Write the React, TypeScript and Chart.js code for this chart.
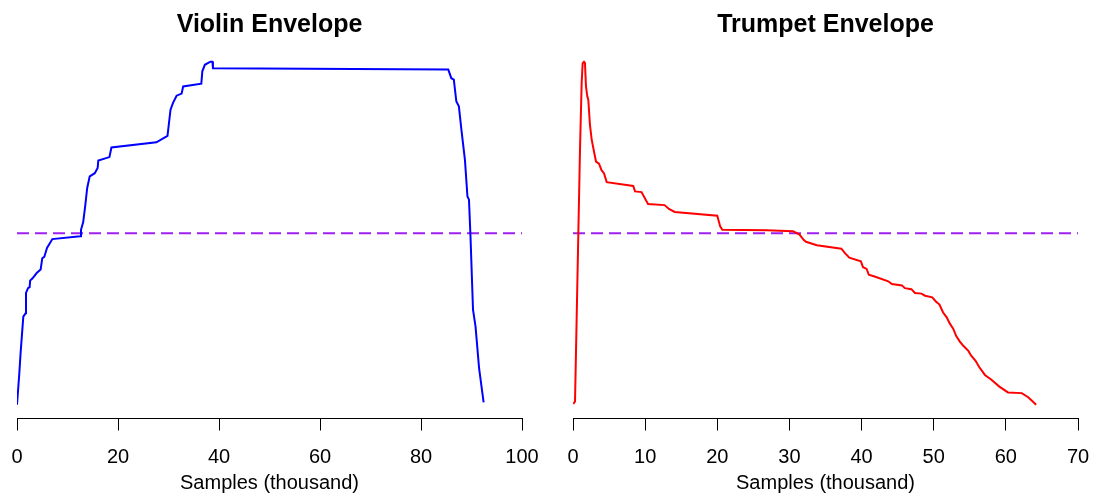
import React, { useEffect, useRef } from 'react';
import { Chart, registerables } from 'chart.js';

Chart.register(...registerables);

// ---- Data (x in thousand samples, y = normalised envelope amplitude) ----
const violinX = [0, 0.46, 0.73, 1.25, 1.7, 1.78, 2.18, 2.5, 2.6, 3.03, 3.9, 4.68, 5.0, 5.4, 5.94, 7.0, 12.5, 12.67, 13.1, 13.5, 13.9, 14.4, 15.4, 15.97, 16.1, 18.3, 18.7, 27.6, 29.8, 30.4, 30.9, 31.6, 32.6, 32.9, 36.5, 36.7, 37.2, 38.3, 38.7, 38.8, 85.4, 86.0, 86.5, 87.0, 87.5, 88.0, 88.7, 89.2, 89.5, 89.8, 90.3, 90.8, 91.5, 92.4];
const violinY = [0, 0.092, 0.155, 0.257, 0.267, 0.326, 0.34, 0.343, 0.362, 0.368, 0.384, 0.394, 0.427, 0.431, 0.457, 0.483, 0.491, 0.51, 0.532, 0.578, 0.632, 0.666, 0.675, 0.69, 0.712, 0.722, 0.75, 0.765, 0.784, 0.86, 0.88, 0.901, 0.907, 0.928, 0.936, 0.972, 0.991, 1.0, 1.0, 0.981, 0.977, 0.952, 0.948, 0.884, 0.87, 0.802, 0.714, 0.607, 0.598, 0.491, 0.277, 0.228, 0.107, 0.007];

const trumpetX = [0.05, 0.28, 0.74, 0.97, 1.2, 1.34, 1.52, 1.66, 1.8, 1.98, 2.12, 2.35, 2.59, 2.95, 3.19, 3.6, 3.97, 4.29, 4.67, 8.35, 8.6, 9.5, 10.4, 12.7, 13.3, 14.1, 20.0, 20.4, 20.7, 26.8, 30.5, 31.4, 32.0, 32.3, 33.8, 37.2, 37.7, 38.3, 39.9, 40.2, 40.7, 41.0, 41.8, 43.7, 44.2, 45.6, 46.0, 46.9, 47.4, 48.3, 48.8, 49.8, 50.3, 50.8, 51.3, 51.8, 52.2, 52.7, 53.1, 53.6, 54.1, 54.8, 55.2, 55.8, 56.3, 57.1, 58.0, 59.1, 60.3, 62.2, 63.1, 64.2];
const trumpetY = [0.002, 0.01, 0.5, 0.743, 0.938, 0.996, 1.0, 0.996, 0.928, 0.899, 0.889, 0.816, 0.773, 0.734, 0.709, 0.703, 0.683, 0.675, 0.649, 0.638, 0.622, 0.62, 0.585, 0.582, 0.571, 0.562, 0.551, 0.52, 0.51, 0.509, 0.506, 0.496, 0.48, 0.475, 0.465, 0.455, 0.442, 0.429, 0.418, 0.401, 0.396, 0.379, 0.374, 0.36, 0.352, 0.348, 0.34, 0.337, 0.326, 0.324, 0.318, 0.313, 0.301, 0.292, 0.269, 0.255, 0.238, 0.222, 0.201, 0.185, 0.172, 0.157, 0.143, 0.128, 0.11, 0.087, 0.073, 0.053, 0.036, 0.034, 0.022, 0.0];

const threshold = 0.5;

const violinTicks = [0, 20, 40, 60, 80, 100];
const trumpetTicks = [0, 10, 20, 30, 40, 50, 60, 70];

const xTitle = 'Samples (thousand)';
const FONT = '"Liberation Sans", Arial, Helvetica, sans-serif';

type PanelProps = {
  title: string;
  xs: number[];
  ys: number[];
  color: string;
  ticks: number[];
  padLeft: number;
  padRight: number;
  offsetLeft: number;
};

function Panel({ title, xs, ys, color, ticks, padLeft, padRight, offsetLeft }: PanelProps) {
  const ref = useRef<HTMLCanvasElement | null>(null);

  useEffect(() => {
    if (!ref.current) return;
    const xMin = ticks[0];
    const xMax = ticks[ticks.length - 1];
    const titlePlugin = {
      id: 'panelTitle',
      afterDraw(chart: any) {
        const ctx = chart.ctx;
        const { left, right } = chart.chartArea;
        ctx.save();
        ctx.font = `bold 25px ${FONT}`;
        ctx.fillStyle = '#000';
        ctx.textAlign = 'center';
        ctx.textBaseline = 'alphabetic';
        ctx.fillText(title, (left + right) / 2, 32);
        ctx.restore();
      },
    };
    const chart = new Chart(ref.current, {
      type: 'line',
      data: {
        datasets: [
          {
            data: xs.map((x, i) => ({ x, y: ys[i] })),
            borderColor: color,
            borderWidth: 2,
            pointRadius: 0,
            tension: 0,
            fill: false,
          },
          {
            data: [
              { x: xMin, y: threshold },
              { x: xMax, y: threshold },
            ],
            borderColor: '#a020f0',
            borderWidth: 2,
            borderDash: [12, 6],
            pointRadius: 0,
            fill: false,
          },
        ],
      },
      options: {
        animation: false,
        responsive: false,
        devicePixelRatio: 1,
        layout: { padding: { left: padLeft, right: padRight, top: 48, bottom: 0 } },
        plugins: { legend: { display: false }, tooltip: { enabled: false }, title: { display: false } },
        scales: {
          x: {
            type: 'linear',
            min: xMin,
            max: xMax,
            afterBuildTicks: (scale: any) => {
              scale.ticks = ticks.map((v) => ({ value: v }));
            },
            afterFit: (scale: any) => {
              scale.height = 78.5;
              scale.paddingLeft = 0;
              scale.paddingRight = 0;
            },
            grid: {
              display: true,
              drawOnChartArea: false,
              drawTicks: true,
              tickLength: 12,
              color: '#000',
              lineWidth: 1,
            },
            border: { display: true, color: '#000', width: 1 },
            ticks: {
              autoSkip: false,
              maxRotation: 0,
              padding: 14.5,
              color: '#000',
              font: { family: FONT, size: 20 },
            },
            title: {
              display: true,
              text: xTitle,
              color: '#000',
              font: { family: FONT, size: 20 },
              padding: { top: 0, bottom: 1.5 },
            },
          },
          y: {
            type: 'linear',
            display: false,
            min: -0.04,
            max: 1.04,
          },
        },
      },
      plugins: [titlePlugin],
    } as any);
    return () => chart.destroy();
  }, [title, xs, ys, color, ticks, padLeft, padRight]);

  return (
    <canvas
      ref={ref}
      width={547}
      height={497}
      style={{ position: 'absolute', left: offsetLeft, top: 0, width: 547, height: 497 }}
    />
  );
}

export default function App() {
  return (
    <div style={{ position: 'absolute', left: 0, top: 0, width: 1094, height: 497, background: '#fff' }}>
      <Panel title="Violin Envelope" xs={violinX} ys={violinY} color="#0000ff" ticks={violinTicks} padLeft={17} padRight={25} offsetLeft={0} />
      <Panel title="Trumpet Envelope" xs={trumpetX} ys={trumpetY} color="#ff0000" ticks={trumpetTicks} padLeft={26} padRight={16} offsetLeft={547} />
    </div>
  );
}
